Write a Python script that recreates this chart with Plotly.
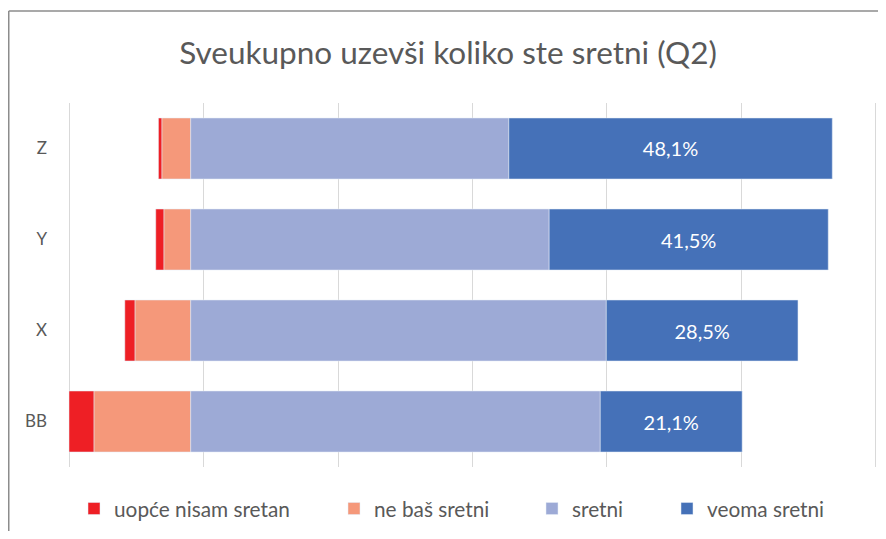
import plotly.graph_objects as go

categories = ["BB", "X", "Y", "Z"]
uopce_nisam = [3.7, 1.5, 1.2, 0.5]
ne_bas = [14.4, 8.3, 4.0, 4.3]
sretni = [60.9, 61.8, 53.3, 47.3]
veoma = [21.1, 28.5, 41.5, 48.1]

names = ["uopće nisam sretan", "ne baš sretni", "sretni", "veoma sretni"]
colors = ["#EE1F25", "#F5987A", "#9DAAD6", "#4571B8"]
FONT = "Lato"
GREY = "#595959"

W, H = 870, 523
L, R, T, B = 60, 0, 95, 64
PW, PH = W - L - R, H - T - B

fig = go.Figure()
fig.add_trace(go.Bar(y=categories, x=[-v for v in ne_bas], orientation="h", name=names[1],
                     marker_color=colors[1], legend="legend2", hoverinfo="skip"))
fig.add_trace(go.Bar(y=categories, x=[-v for v in uopce_nisam], orientation="h", name=names[0],
                     marker_color=colors[0], legend="legend", hoverinfo="skip"))
fig.add_trace(go.Bar(y=categories, x=sretni, orientation="h", name=names[2],
                     marker_color=colors[2], legend="legend3", hoverinfo="skip"))
fig.add_trace(go.Bar(y=categories, x=veoma, orientation="h", name=names[3],
                     marker_color=colors[3], legend="legend4",
                     texttemplate="%{x:.1f}%", textposition="inside",
                     insidetextanchor="middle", textangle=0,
                     textfont=dict(color="white", size=20, family=FONT), hoverinfo="skip"))

left = -(uopce_nisam[0] + ne_bas[0])
ticks = [left + 20 * k for k in range(7)]

# legend box left positions (figure px)
leg_left_x = [66, 326, 524, 659]
def leg(i):
    return dict(orientation="h", x=(leg_left_x[i] - L) / PW, xanchor="left",
                y=(H - B - 501) / PH, yanchor="middle",
                font=dict(size=20.8, color=GREY, family=FONT), bgcolor="rgba(0,0,0,0)")

fig.update_layout(
    width=W, height=H, showlegend=True,
    barmode="relative", bargap=0.33,
    separators=", ",
    paper_bgcolor="white", plot_bgcolor="white",
    margin=dict(l=L, r=R, t=T, b=B, pad=0, autoexpand=False),
    font=dict(family=FONT, color=GREY, size=15),
    title=dict(text="Sveukupno uzevši koliko ste sretni (Q2)", x=(W / 2 + 5) / W, xanchor="center",
               y=1 - 45 / H, yanchor="middle",
               font=dict(family=FONT, size=31.5, color=GREY)),
    xaxis=dict(range=[left - 0.15, ticks[-1] + 0.3], tickvals=ticks, showticklabels=False,
               showgrid=True, gridcolor="#D9D9D9", gridwidth=1.3, zeroline=False,
               showline=False, fixedrange=True),
    yaxis=dict(showgrid=False, zeroline=False, showline=False,
               tickfont=dict(size=17, color=GREY, family=FONT), ticklabelstandoff=20),
    legend=leg(0), legend2=leg(1), legend3=leg(2), legend4=leg(3),
    shapes=[
        dict(type="line", xref="paper", yref="paper", x0=-(L - 0.75) / PW, x1=1.02,
             y0=(H - B - 3) / PH, y1=(H - B - 3) / PH, line=dict(color="#8C8C8C", width=1.5)),
        dict(type="line", xref="paper", yref="paper", x0=-(L - 0.75) / PW, x1=-(L - 0.75) / PW,
             y0=(H - B - 3) / PH, y1=-0.3, line=dict(color="#8C8C8C", width=1.5)),
    ],
)

fig.write_html("out.html")
